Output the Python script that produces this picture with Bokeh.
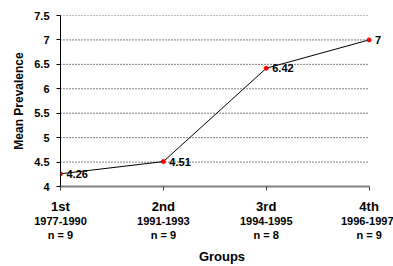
from bokeh.plotting import figure
from bokeh.models import Range1d, FixedTicker, LinearAxis, LabelSet, ColumnDataSource
from bokeh.core.properties import value
from bokeh.embed import file_html
from bokeh.resources import INLINE

groups = ["1st", "2nd", "3rd", "4th"]
years = ["1977-1990", "1991-1993", "1994-1995", "1996-1997"]
ns = ["n = 9", "n = 9", "n = 8", "n = 9"]
means = [4.26, 4.51, 6.42, 7.0]
mean_labels = ["4.26", "4.51", "6.42", "7"]
y_ticks = [4, 4.5, 5, 5.5, 6, 6.5, 7, 7.5]
y_tick_labels = ["4", "4.5", "5", "5.5", "6", "6.5", "7", "7.5"]

FONT = "Liberation Sans"
xs = list(range(len(groups)))
n_last = len(groups) - 1

p = figure(width=393, height=266, output_backend="svg", toolbar_location=None,
           x_range=Range1d(0, n_last + 0.14), y_range=Range1d(4, 7.5),
           min_border_left=60, min_border_right=10, min_border_top=15, min_border_bottom=79)
p.outline_line_color = None
p.background_fill_color = "white"

# grid (dotted lines spanning the categories only)
p.xgrid.grid_line_color = None
p.ygrid.grid_line_color = None
gx0 = [0] * (len(y_ticks) - 1)
gx1 = [n_last] * (len(y_ticks) - 1)
p.segment(x0=gx0, x1=gx1, y0=y_ticks[1:], y1=y_ticks[1:], line_color="black",
          line_dash="1 2", line_width=1)

# y axis
p.yaxis.ticker = FixedTicker(ticks=y_ticks)
p.yaxis.major_label_overrides = {t: l for t, l in zip(y_ticks, y_tick_labels)}
p.yaxis.minor_tick_line_color = None
p.yaxis.major_tick_in = 0
p.yaxis.major_tick_out = 4
p.yaxis.axis_line_color = "black"
p.yaxis.major_tick_line_color = "black"
p.yaxis.major_label_text_font = FONT
p.yaxis.major_label_text_font_style = "bold"
p.yaxis.major_label_text_font_size = "11px"
p.yaxis.major_label_text_color = "black"
p.yaxis.major_label_standoff = 7
p.yaxis.axis_label = "Mean Prevalence"
p.yaxis.axis_label_text_font = FONT
p.yaxis.axis_label_text_font_style = "bold"
p.yaxis.axis_label_text_font_size = "12px"
p.yaxis.axis_label_text_color = "black"
p.yaxis.axis_label_standoff = 5

# x axis (group names)
xa = p.xaxis[0]
xa.bounds = (0, n_last)
xa.ticker = FixedTicker(ticks=xs)
xa.major_label_overrides = {i: g for i, g in zip(xs, groups)}
xa.minor_tick_line_color = None
xa.major_tick_in = 0
xa.major_tick_out = 4
xa.axis_line_color = "#808080"
xa.axis_line_width = 2
xa.major_tick_line_color = "#404040"
xa.major_label_text_font = FONT
xa.major_label_text_font_style = "bold"
xa.major_label_text_font_size = "13px"
xa.major_label_text_color = "black"
xa.major_label_standoff = 8

def sub_axis(labels, standoff):
    ax = LinearAxis(ticker=FixedTicker(ticks=xs), bounds=(0, n_last),
                    major_label_overrides={i: t for i, t in zip(xs, labels)})
    ax.axis_line_color = None
    ax.major_tick_line_color = None
    ax.minor_tick_line_color = None
    ax.major_tick_in = 0
    ax.major_tick_out = 0
    ax.major_label_standoff = standoff
    ax.major_label_text_font = FONT
    ax.major_label_text_font_style = "bold"
    ax.major_label_text_font_size = "11px"
    ax.major_label_text_color = "black"
    return ax

ax_years = sub_axis(years, 0)
ax_n = sub_axis(ns, 1)
ax_n.axis_label = "Groups"
ax_n.axis_label_text_font = FONT
ax_n.axis_label_text_font_style = "bold"
ax_n.axis_label_text_font_size = "13px"
ax_n.axis_label_text_color = "black"
ax_n.axis_label_standoff = 5
p.add_layout(ax_years, "below")
p.add_layout(ax_n, "below")

# line and points
src = ColumnDataSource(dict(x=xs, y=means, lab=mean_labels))
p.line("x", "y", source=src, line_color="black", line_width=1)
p.scatter("x", "y", source=src, size=4, marker="circle", color="red")
p.add_layout(LabelSet(x="x", y="y", text="lab", source=src, x_offset=6,
                      text_baseline="middle", text_align="left",
                      text_font=value(FONT), text_font_style="bold", text_font_size="11px",
                      text_color="black"))

open("out.html", "w").write(file_html(p, INLINE))
